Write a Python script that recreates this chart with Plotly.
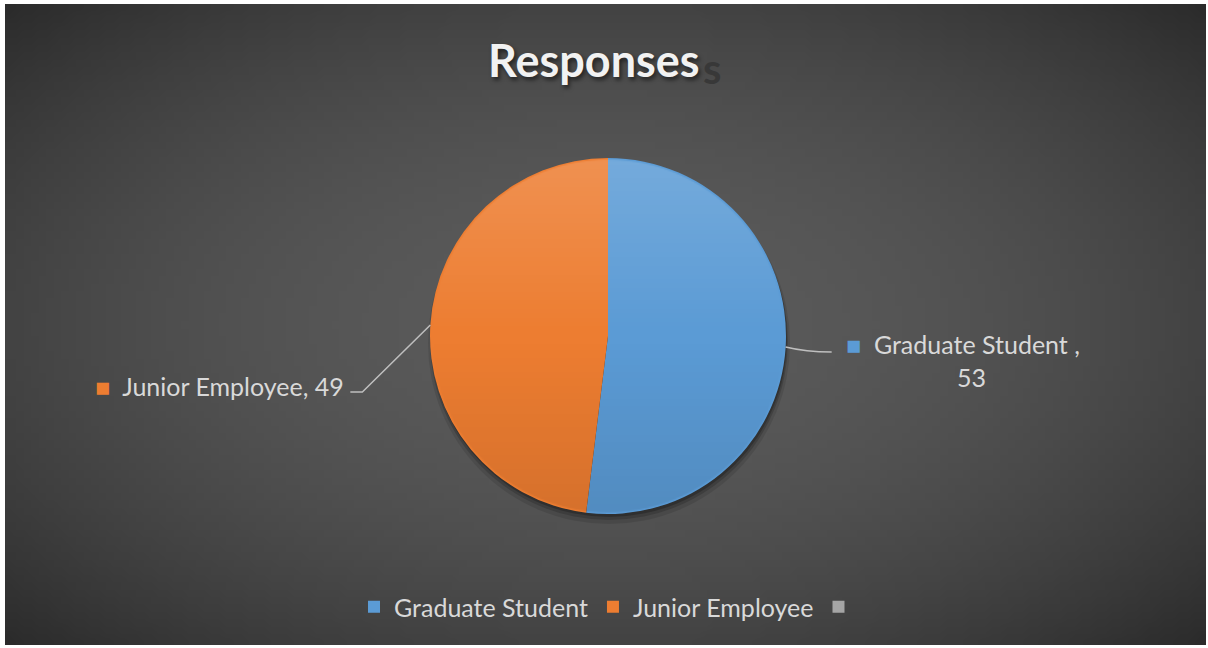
import base64, struct, zlib, math
import plotly.graph_objects as go

# ---- data ----
categories = ["Graduate Student", "Junior Employee", " "]
values = [53, 49, 0]
colors = ["#5B9BD5", "#ED7D31", "#A5A5A5"]
label_texts = ["Graduate Student ,", "Junior Employee, 49"]
title_text = "Responses"

# ---- geometry / style ----
W, H = 1208, 648
AX0, AX1, AY0, AY1 = 5, 1206, 4, 645       # dark chart area inside white frame
CX, CY, R = 608, 336, 178                   # pie centre / radius in px
FONT = "Lato"
TXT = "#D9D9D9"
LBL_SIZE = 25


def px_x(x):
    return x / W


def px_y(y):
    return 1 - y / H


def png(w, h, rows, alpha=False):
    def chunk(t, d):
        c = struct.pack(">I", len(d)) + t + d
        return c + struct.pack(">I", zlib.crc32(t + d) & 0xffffffff)
    raw = b"".join(b"\x00" + bytes(r) for r in rows)
    ihdr = struct.pack(">IIBBBBB", w, h, 8, 6 if alpha else 2, 0, 0, 0)
    data = (b"\x89PNG\r\n\x1a\n" + chunk(b"IHDR", ihdr)
            + chunk(b"IDAT", zlib.compress(raw, 9)) + chunk(b"IEND", b""))
    return "data:image/png;base64," + base64.b64encode(data).decode()


# radial background gradient
gw, gh = 160, 86
bg_rows = []
for j in range(gh):
    row = []
    for i in range(gw):
        u = (i + 0.5) / gw * 2 - 1
        v = (j + 0.5) / gh * 2 - 1
        c = int(max(40, min(92, 91 - 24 * (u * u + v * v))))
        row += [c, c, c]
    bg_rows.append(row)
bg_img = png(gw, gh, bg_rows)

# soft light/dark overlay for the pie (gradient look)
ow = 240
ov_rows = []
for j in range(ow):
    row = []
    t = (j + 0.5) / ow
    for i in range(ow):
        u = (i + 0.5) / ow * 2 - 1
        v = t * 2 - 1
        d = math.sqrt(u * u + v * v)
        edge = max(0.0, min(1.0, (0.995 - d) * ow / 2))
        if t < 0.5:
            col, a = 255, (0.5 - t) * 2 * 0.16
        else:
            col, a = 0, (t - 0.5) * 2 * 0.10
        row += [col, col, col, int(255 * a * edge)]
    ov_rows.append(row)
ov_img = png(ow, ow, ov_rows, alpha=True)

fig = go.Figure()
fig.add_trace(go.Pie(
    labels=categories, values=values, sort=False, direction="clockwise",
    rotation=0, marker=dict(colors=colors, line=dict(width=0)),
    textinfo="none", hoverinfo="label+value",
    domain=dict(x=[px_x(CX - R), px_x(CX + R)], y=[px_y(CY + R), px_y(CY - R)]),
    showlegend=True,
))

images = [
    dict(source=bg_img, xref="paper", yref="paper", x=px_x(AX0), y=px_y(AY0),
         sizex=(AX1 - AX0) / W, sizey=(AY1 - AY0) / H, sizing="stretch",
         xanchor="left", yanchor="top", layer="below"),
    dict(source=ov_img, xref="paper", yref="paper", x=px_x(CX - R), y=px_y(CY - R),
         sizex=2 * R / W, sizey=2 * R / H, sizing="stretch",
         xanchor="left", yanchor="top", layer="above"),
]

shapes = []
# pie drop shadow
for off, grow, alpha in [(7, 3, 0.10), (5, 1, 0.16), (3, 0, 0.22)]:
    shapes.append(dict(type="circle", xref="paper", yref="paper",
                       x0=px_x(CX - R - grow + 1), x1=px_x(CX + R + grow + 1),
                       y0=px_y(CY + R + grow + off), y1=px_y(CY - R - grow + off),
                       fillcolor=f"rgba(0,0,0,{alpha})", line=dict(width=0), layer="below"))

# leader lines + labels computed from slice mid-angles
total = sum(values)
cum = 0
mids = []
for v in values:
    mids.append((cum + v / 2) / total * 2 * math.pi)
    cum += v
annotations = []
LINE = "#BFBFBF"

# Graduate Student (right side)
a = mids[0]
ex, ey = CX + R * math.sin(a), CY - R * math.cos(a)
endx, endy = ex + 46, ey + 5
shapes.append(dict(type="path", xref="paper", yref="paper",
                   path=f"M{px_x(ex)},{px_y(ey)} Q{px_x(ex + 20)},{px_y(endy)} {px_x(endx)},{px_y(endy)}",
                   line=dict(color=LINE, width=1.5)))
annotations.append(dict(
    x=px_x(endx + 12), y=px_y(endy - 8), xref="paper", yref="paper", showarrow=False,
    xanchor="left", yanchor="middle",
    text=f'<span style="color:{colors[0]}">■</span>  {label_texts[0]}',
    font=dict(family=FONT, size=LBL_SIZE, color=TXT)))
annotations.append(dict(
    x=px_x(endx + 140), y=px_y(endy + 25), xref="paper", yref="paper", showarrow=False,
    xanchor="center", yanchor="middle", text=str(values[0]),
    font=dict(family=FONT, size=LBL_SIZE, color=TXT)))

# Junior Employee (left side)
a = mids[1]
ex, ey = CX + R * math.sin(a), CY - R * math.cos(a)
elx, ely = ex - 68, ey + 67
endx = elx - 12
shapes.append(dict(type="path", xref="paper", yref="paper",
                   path=f"M{px_x(ex)},{px_y(ey)} L{px_x(elx)},{px_y(ely)} L{px_x(endx)},{px_y(ely)}",
                   line=dict(color=LINE, width=1.5)))
annotations.append(dict(
    x=px_x(endx - 4), y=px_y(ely - 6), xref="paper", yref="paper", showarrow=False,
    xanchor="right", yanchor="middle",
    text=f'<span style="color:{colors[1]}">■</span>  {label_texts[1]}',
    font=dict(family=FONT, size=LBL_SIZE, color=TXT)))

# title (with ghost shadow)
annotations.append(dict(
    x=px_x(712), y=px_y(68), xref="paper", yref="paper", showarrow=False,
    xanchor="center", yanchor="middle", text="s",
    font=dict(family=FONT, size=42, color="#383838", weight="bold")))
annotations.append(dict(
    x=px_x(594), y=px_y(60), xref="paper", yref="paper", showarrow=False,
    xanchor="center", yanchor="middle", text=title_text,
    font=dict(family=FONT, size=45, color="#F2F2F2", weight="bold",
              shadow="2px 3px 4px rgba(0,0,0,0.55)")))

fig.update_layout(
    width=W, height=H, margin=dict(l=0, r=0, t=0, b=0),
    paper_bgcolor="#FFFFFF", plot_bgcolor="rgba(0,0,0,0)",
    images=images, shapes=shapes, annotations=annotations,
    legend=dict(orientation="h", x=px_x(612), xanchor="center", y=px_y(607),
                yanchor="middle", font=dict(family=FONT, size=LBL_SIZE, color=TXT),
                bgcolor="rgba(0,0,0,0)", itemclick=False),
)
fig.write_html("out.html")
